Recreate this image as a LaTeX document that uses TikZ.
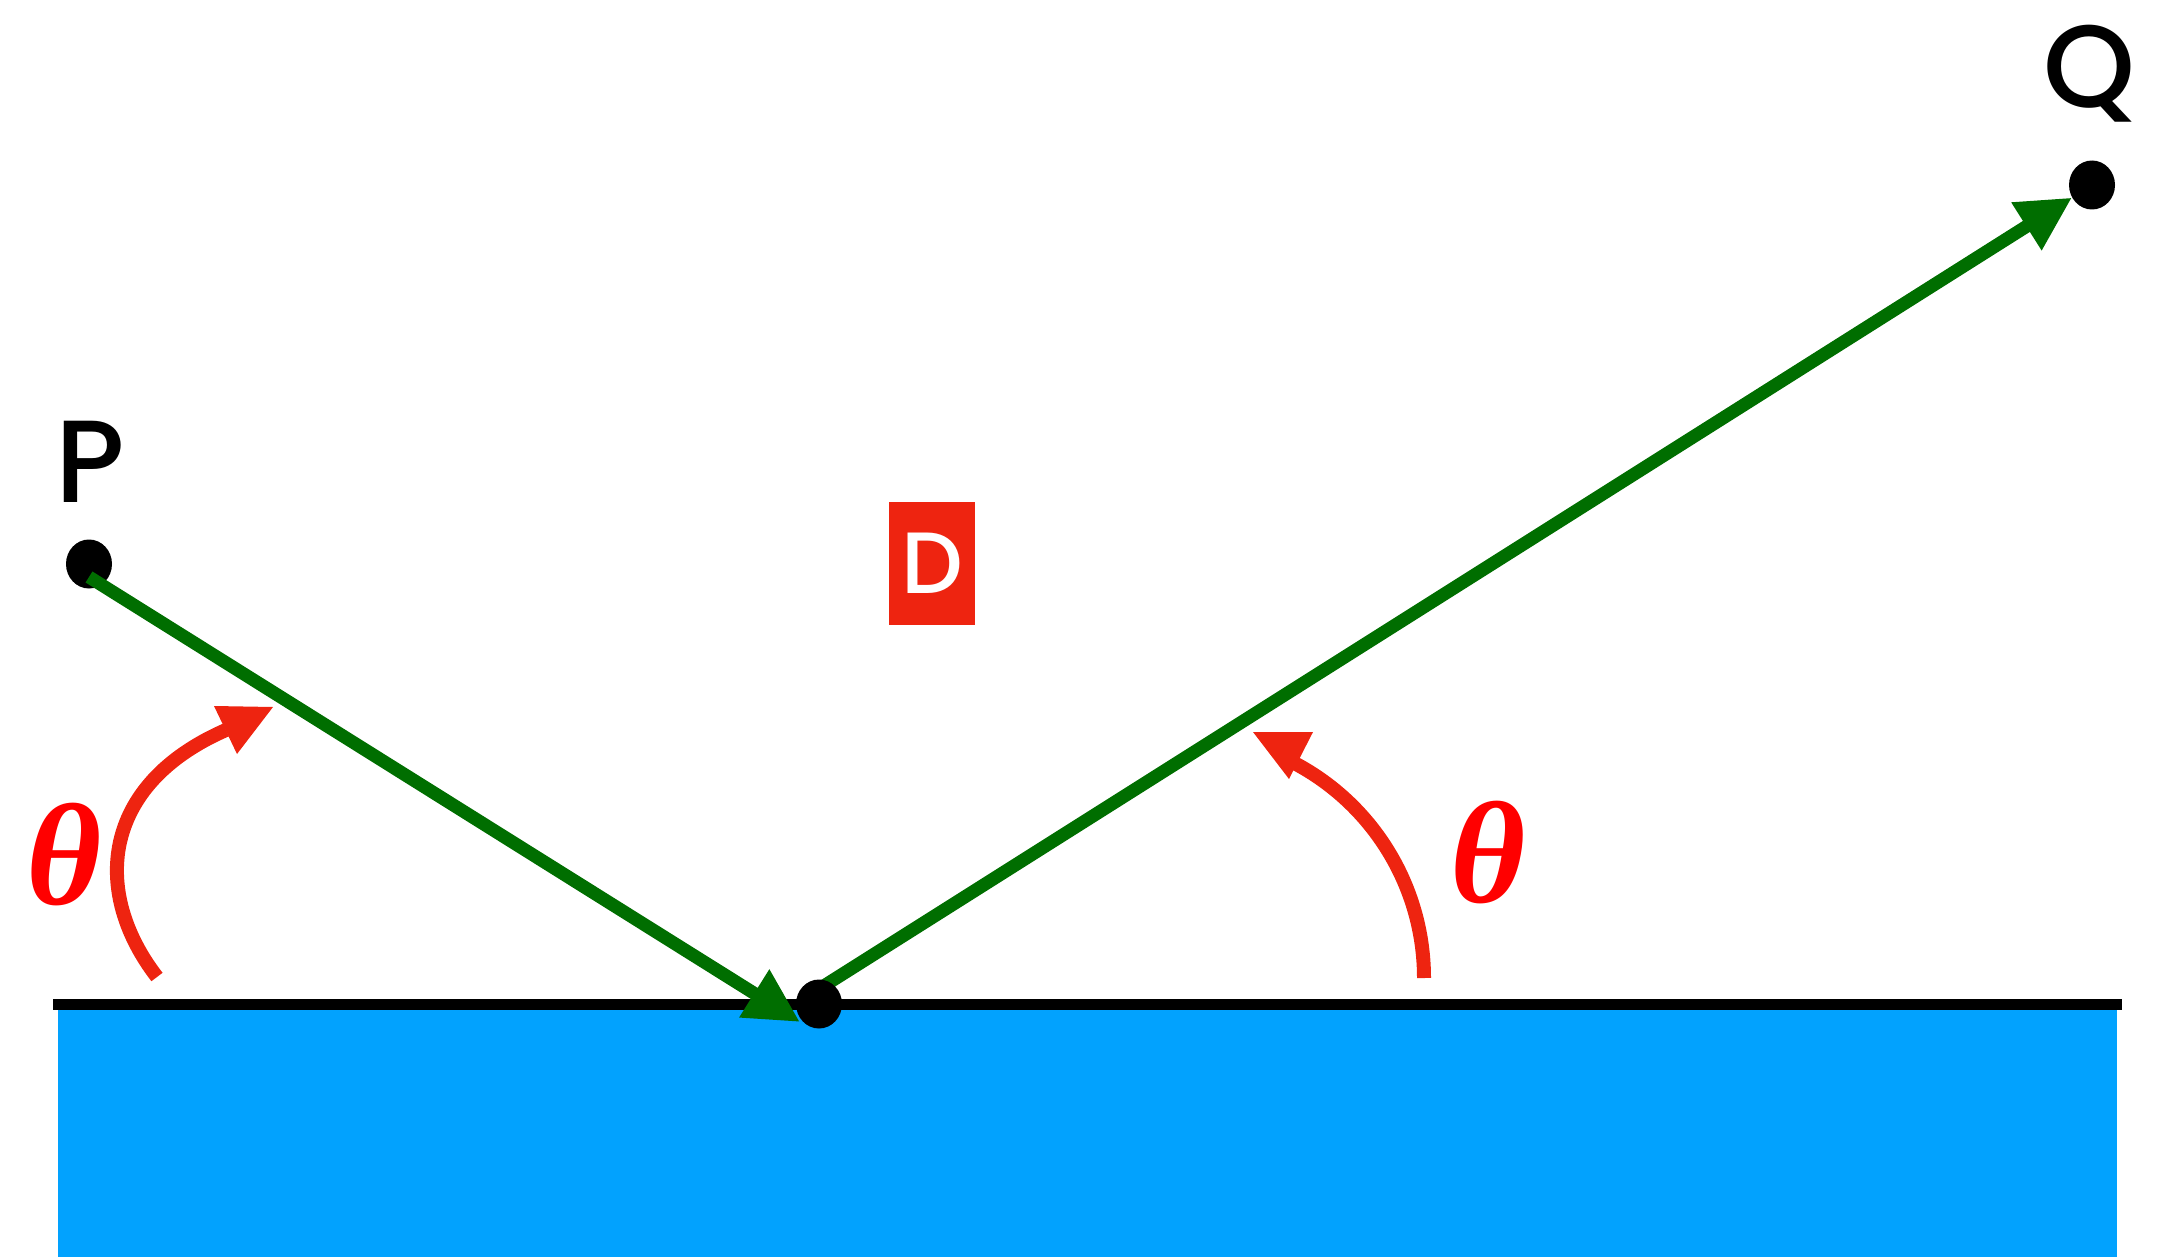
\documentclass[tikz,border=0pt]{standalone}
\usepackage{fontspec}
\setmainfont{Poppins}[UprightFont=* Medium]
\newfontfamily\thetafont{Liberation Serif}
\usetikzlibrary{arrows.meta,shapes.geometric}
\definecolor{arcred}{HTML}{EE2410}
\definecolor{raygreen}{HTML}{006E00}
\definecolor{water}{HTML}{02A2FE}
\definecolor{thetared}{HTML}{FF0000}
\begin{document}
\begin{tikzpicture}[x=1pt,y=-1pt,
  dot/.style={ellipse,fill=black,inner sep=0pt,minimum width=46pt,minimum height=49pt},
  ray/.style={draw=raygreen,line width=13pt,-{Triangle[length=54pt,width=53pt]}},
  anglearc/.style={draw=arcred,line width=14pt},
  archead/.style={fill=arcred},
  lbl/.style={font=\fontsize{117}{120}\selectfont,inner sep=0pt},
  thetalbl/.style={text=thetared,font=\thetafont\bfseries\itshape\fontsize{145}{150}\selectfont,inner sep=0pt}]
\useasboundingbox (0,0) rectangle (2157,1257);
% water and surface
\fill[water] (58,1009) rectangle (2117,1257);
\draw[line width=11pt] (53,1004) -- (2122,1004);
% angle arcs
\draw[anglearc] (157,977) .. controls (92,893) and (100,785) .. (226,730);
\fill[archead] (273,707) -- (214,706) -- (237,754) -- cycle;
\draw[anglearc] (1424,978) arc[start angle=0,end angle=-63,radius=243];
\fill[archead] (1253,732) -- (1313,732) -- (1289,779) -- cycle;
% points
\node[dot] (P) at (89,564) {};
\node[dot] (Q) at (2092,185) {};
\coordinate (pstart) at (89,577);
\coordinate (ptip) at (800,1022);
\coordinate (dstart) at (819,989);
\draw[ray] (pstart) -- (ptip);
\draw[ray] (dstart) -- (Q);
\node[dot] (D) at (819,1004) {};
% labels
\node[lbl,anchor=base] (Plabel) at (90,502) {P};
\node[lbl,anchor=base] (Qlabel) at (2090,108) {Q};
\node[fill=arcred,minimum width=86pt,minimum height=123pt,text=white,
      font=\fontsize{87}{90}\selectfont,inner sep=0pt] (Dbox) at (932,563) {D};
\node[thetalbl] (th1) at (64,855) {θ};
\node[thetalbl] (th2) at (1488,853) {θ};
\end{tikzpicture}
\end{document}
